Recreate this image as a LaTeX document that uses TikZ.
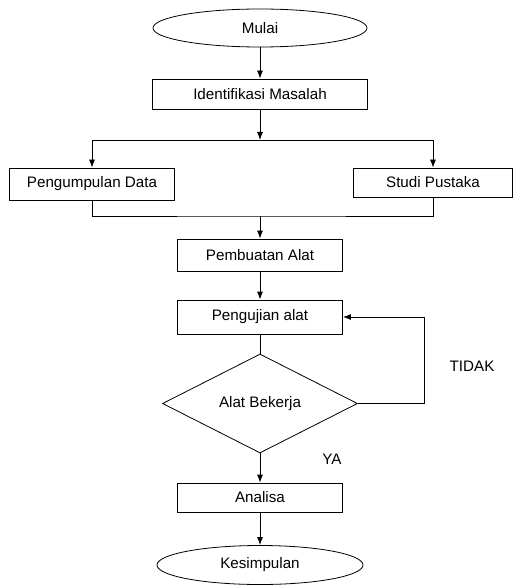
\documentclass[tikz,border=0pt]{standalone}
\usepackage{fontspec}
\setmainfont{Liberation Sans}
\usepackage{tikz}
\usetikzlibrary{shapes.geometric,arrows.meta}

\begin{document}
\begin{tikzpicture}[x=1pt,y=-1pt,line width=0.8pt,
  font=\fontsize{15.2}{18}\selectfont,
  proses/.style={draw,rectangle,inner sep=0pt},
  terminal/.style={draw,ellipse,inner sep=0pt},
  keputusan/.style={draw,diamond,inner sep=0pt},
  panah/.style={-{Latex[length=8pt,width=6pt]}}]
\useasboundingbox (0,0) rectangle (514,585);
\node[terminal,minimum width=214,minimum height=38] (mulai) at (260,28) {Mulai};
\node[proses,minimum width=215,minimum height=30] (ident) at (260,94) {Identifikasi Masalah};
\node[proses,minimum width=165,minimum height=32] (data) at (92,184) {Pengumpulan Data};
\node[proses,minimum width=159,minimum height=29] (studi) at (433,182.5) {Studi Pustaka};
\node[proses,minimum width=165,minimum height=32] (buat) at (260,255) {Pembuatan Alat};
\node[proses,minimum width=165,minimum height=34] (uji) at (260,317) {Pengujian alat};
\node[keputusan,minimum width=195,minimum height=99] (cek) at (260,403.5) {Alat Bekerja};
\node[proses,minimum width=165,minimum height=29] (analisa) at (260,497.5) {Analisa};
\node[terminal,minimum width=206,minimum height=39] (simpul) at (260,565) {Kesimpulan};
\node (tidak) at (472,366) {TIDAK};
\node (ya) at (332,459) {YA};
\coordinate (cabang) at (260,140);
\coordinate (gabung) at (260,216);
\draw[panah] (mulai) -- (ident);
\draw[panah] (ident) -- (cabang);
\draw[panah] (cabang) -| (data.north);
\draw[panah] (cabang) -| (studi.north);
\draw (data.south) |- (gabung) -| (studi.south);
\draw[panah] (gabung) -- (buat);
\draw[panah] (buat) -- (uji);
\draw (uji) -- (cek);
\draw[panah] (cek.east) -| ([xshift=81]uji.east) -- (uji.east);
\draw[panah] (cek) -- (analisa);
\draw[panah] (analisa) -- (simpul);
\end{tikzpicture}
\end{document}
